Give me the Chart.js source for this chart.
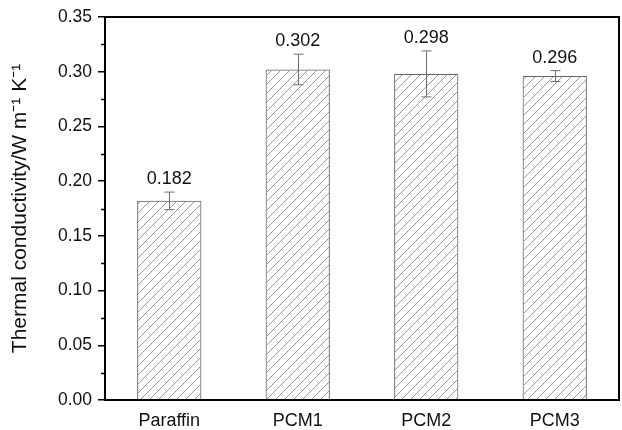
<!DOCTYPE html>
<html>
<head>
    <title>Thermal conductivity</title>
    <script src="https://cdn.jsdelivr.net/npm/chart.js@4.4.0/dist/chart.umd.min.js"></script>
    <style>
        * { margin: 0; padding: 0; box-sizing: border-box; }
        body { background: #fff; width: 622px; height: 430px; overflow: hidden; }
        .wrap { width: 622px; height: 430px; position: relative; }
    </style>
</head>
<body>
    <div class="wrap"><canvas id="chart"></canvas></div>
    <script>
        const categories = ['Paraffin', 'PCM1', 'PCM2', 'PCM3'];
        const conductivity = [0.182, 0.302, 0.298, 0.296];
        const errors = [0.008, 0.014, 0.021, 0.005];
        const valueLabels = ['0.182', '0.302', '0.298', '0.296'];

        const FONT = '"Liberation Sans", Arial, sans-serif';

        // diagonal hatch fill
        function hatch() {
            const s = 9;
            const c = document.createElement('canvas');
            c.width = s; c.height = s;
            const g = c.getContext('2d');
            g.strokeStyle = '#8c8c8c';
            g.lineWidth = 0.9;
            g.beginPath();
            g.moveTo(-1, s + 1); g.lineTo(s + 1, -1);
            g.moveTo(-s - 1, 1); g.lineTo(1, -s - 1);
            g.moveTo(s - 1, 2 * s + 1); g.lineTo(2 * s + 1, s - 1);
            g.stroke();
            return g.createPattern(c, 'repeat');
        }

        const extras = {
            id: 'extras',
            afterDatasetsDraw(chart) {
                const ctx = chart.ctx;
                const y = chart.scales.y;
                const meta = chart.getDatasetMeta(0);
                const a = chart.chartArea;
                ctx.save();
                // error bars + value labels
                ctx.lineWidth = 1;
                meta.data.forEach((bar, i) => {
                    const x = Math.round(bar.x) + 0.5;
                    const top = y.getPixelForValue(conductivity[i] + errors[i]);
                    const bot = y.getPixelForValue(conductivity[i] - errors[i]);
                    ctx.strokeStyle = '#6e6e6e';
                    ctx.beginPath();
                    ctx.moveTo(x, top); ctx.lineTo(x, bot);
                    ctx.moveTo(x - 5, top); ctx.lineTo(x + 5, top);
                    ctx.moveTo(x - 5, bot); ctx.lineTo(x + 5, bot);
                    ctx.stroke();
                    ctx.fillStyle = '#111';
                    ctx.font = '18px ' + FONT;
                    ctx.textAlign = 'center';
                    ctx.textBaseline = 'alphabetic';
                    ctx.fillText(valueLabels[i], bar.x, top - 8);
                });
                // minor ticks
                ctx.strokeStyle = '#000';
                ctx.lineWidth = 1.5;
                for (let v = 0.025; v < 0.35; v += 0.05) {
                    const py = Math.round(y.getPixelForValue(v)) + 0.5;
                    ctx.beginPath();
                    ctx.moveTo(a.left - 4, py); ctx.lineTo(a.left, py);
                    ctx.stroke();
                }
                // frame
                ctx.lineWidth = 2;
                ctx.strokeRect(a.left, a.top, a.right - a.left, a.bottom - a.top);
                ctx.restore();
            }
        };

        new Chart(document.getElementById('chart'), {
            type: 'bar',
            data: {
                labels: categories,
                datasets: [{
                    data: conductivity,
                    backgroundColor: hatch(),
                    borderColor: '#666',
                    borderWidth: 1,
                    barPercentage: 0.5,
                    categoryPercentage: 1
                }]
            },
            options: {
                responsive: true,
                maintainAspectRatio: false,
                animation: false,
                layout: { padding: { left: 0, right: 3, top: 17, bottom: 0 } },
                plugins: { legend: { display: false }, tooltip: { enabled: false } },
                scales: {
                    x: {
                        afterFit: s => { s.height = 30; },
                        grid: { display: false },
                        border: { display: true, color: '#000', width: 2 },
                        ticks: {
                            color: '#111',
                            padding: 2,
                            font: { family: FONT, size: 18 }
                        }
                    },
                    y: {
                        min: 0,
                        max: 0.35,
                        afterFit: s => { s.width = 105; },
                        border: { display: true, color: '#000', width: 2 },
                        grid: { drawOnChartArea: false, color: '#000', lineWidth: 1.5, tickLength: 7 },
                        ticks: {
                            stepSize: 0.05,
                            color: '#111',
                            padding: 6,
                            font: { family: FONT, size: 17.5 },
                            callback: v => v.toFixed(2)
                        },
                        title: {
                            display: true,
                            text: 'Thermal conductivity/W m\u207B\u00B9 K\u207B\u00B9',
                            color: '#111',
                            padding: { top: 8, bottom: 0 },
                            font: { family: FONT, size: 21 }
                        }
                    }
                }
            },
            plugins: [extras]
        });
    </script>
</body>
</html>
